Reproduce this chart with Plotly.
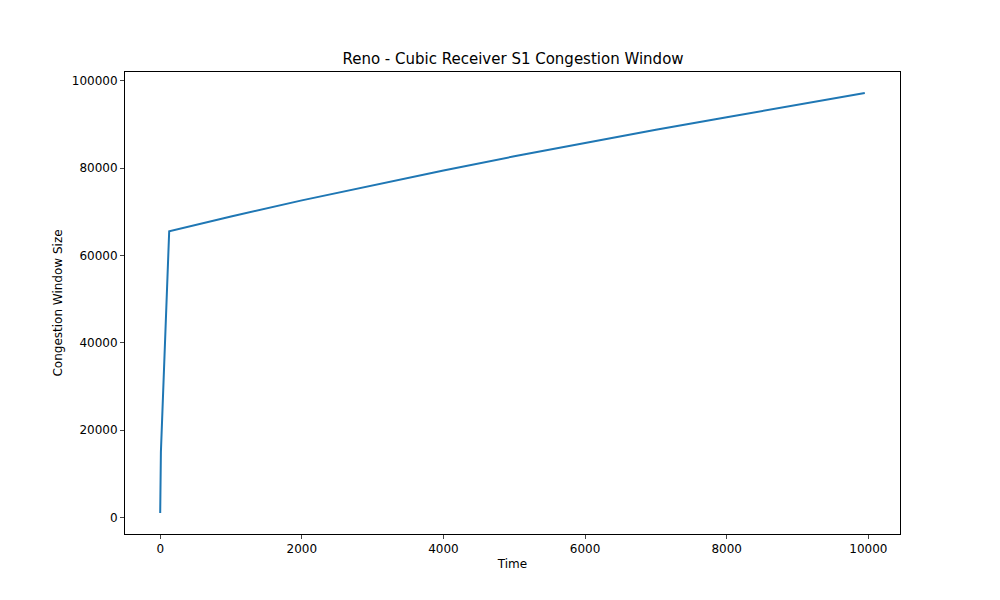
import plotly.graph_objects as go

time = [0, 10, 127, 1000, 2000, 3000, 4000, 5000, 6000, 7000, 8000, 9000, 9950]
cwnd = [1000, 15000, 65536, 68920, 72610, 76120, 79470, 82690, 85790, 88770, 91660, 94470, 97200]

fig = go.Figure(go.Scatter(x=time, y=cwnd, mode="lines", line=dict(color="#1f77b4", width=2)))
ax = dict(showline=True, linecolor="black", mirror=True, ticks="outside", ticklen=4,
          showgrid=False, zeroline=False, tickfont=dict(size=12, color="black"), tickformat="d")
fig.update_layout(
    width=1000, height=600, plot_bgcolor="white", paper_bgcolor="white",
    margin=dict(l=117, r=108, t=64, b=74, autoexpand=False),
    font=dict(family="DejaVu Sans", color="black"),
    title=dict(text="Reno - Cubic Receiver S1 Congestion Window", x=0.505, xanchor="center",
               y=0.915, yanchor="middle", font=dict(size=15)),
    xaxis=dict(ax, title=dict(text="Time", font=dict(size=12), standoff=4), range=[-497, 10447],
               tickvals=list(range(0, 10001, 2000))),
    yaxis=dict(ax, title=dict(text="Congestion Window Size", font=dict(size=12), standoff=6), range=[-3810, 102010],
               tickvals=list(range(0, 100001, 20000))),
    showlegend=False,
)
fig.write_html("out.html")
